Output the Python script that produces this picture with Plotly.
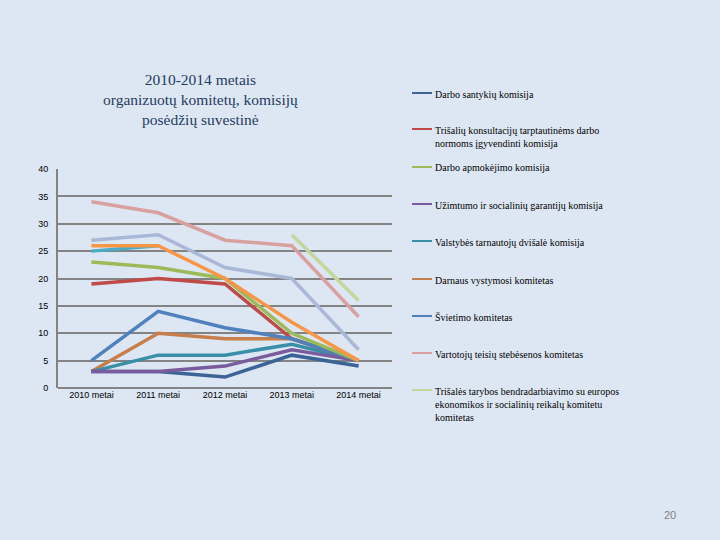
import plotly.graph_objects as go

categories = ["2010 metai", "2011 metai", "2012 metai", "2013 metai", "2014 metai"]

# Series drawn in the chart (legend names for the nine listed ones)
names = [
    "Darbo santykių komisija",
    "Trišalių konsultacijų tarptautinėms darbo<br>normoms įgyvendinti komisija",
    "Darbo apmokėjimo komisija",
    "Užimtumo ir socialinių garantijų komisija",
    "Valstybės tarnautojų dvišalė komisija",
    "Darnaus vystymosi komitetas",
    "Švietimo komitetas",
    "Vartotojų teisių stebėsenos komitetas",
    "Trišalės tarybos bendradarbiavimo su europos<br>ekonomikos ir socialinių reikalų komitetu<br>komitetas",
]
darbo_santykiu = [3, 3, 2, 6, 4]
trisaliu_konsultaciju = [19, 20, 19, 9, 5]
darbo_apmokejimo = [23, 22, 20, 10, 5]
uzimtumo = [3, 3, 4, 7, 5]
valstybes_tarnautoju = [3, 6, 6, 8, 5]
darnaus_vystymosi = [3, 10, 9, 9, 5]
svietimo = [5, 14, 11, 9, 5]
vartotoju = [34, 32, 27, 26, 13]
trisales_tarybos = [None, None, None, 28, 16]
# unlabelled series (legend truncated in the original)
extra_a = [27, 28, 22, 20, 7]
extra_b = [26, 26, 20, 12, 5]
extra_c = [25, 26, None, None, None]

legend_colors = ["#3B6396", "#BE4B48", "#9BBB59", "#7A5C9E", "#3A8FA8",
                 "#C67E4A", "#4F81BD", "#D9A0A0", "#C3D69B"]
extra_colors = ["#4BACC6", "#F79646", "#A9B8D6"]

fig = go.Figure()

# draw order: lower series first
order = [
    (darnaus_vystymosi, legend_colors[5]),
    (valstybes_tarnautoju, legend_colors[4]),
    (darbo_santykiu, legend_colors[0]),
    (uzimtumo, legend_colors[3]),
    (trisaliu_konsultaciju, legend_colors[1]),
    (svietimo, legend_colors[6]),
    (darbo_apmokejimo, legend_colors[2]),
    (extra_c, extra_colors[0]),
    (extra_b, extra_colors[1]),
    (extra_a, extra_colors[2]),
    (vartotoju, legend_colors[7]),
    (trisales_tarybos, legend_colors[8]),
]
for vals, col in order:
    fig.add_trace(go.Scatter(x=categories, y=vals, mode="lines",
                             line=dict(color=col, width=3.5), showlegend=False,
                             connectgaps=False))

W, H = 720, 540
L, R, T, B = 58, 392, 169, 388

def px(x):
    return (x - L) / (R - L)

def py(y):
    return (B - y) / (B - T)

serif = "Liberation Serif, Times New Roman, serif"

# manual legend
leg_y = [93, 129, 167, 204, 241, 279, 316, 353, 390]
for i, (nm, col) in enumerate(zip(names, legend_colors)):
    yy = leg_y[i]
    fig.add_shape(type="line", xref="paper", yref="paper",
                  x0=px(412), x1=px(432), y0=py(yy), y1=py(yy),
                  line=dict(color=col, width=2))
    fig.add_annotation(xref="paper", yref="paper", x=px(433), y=py(yy - 6.5),
                       xanchor="left", yanchor="top", align="left",
                       text=nm, showarrow=False,
                       font=dict(family=serif, size=10, color="#000000"))

fig.add_annotation(xref="paper", yref="paper", x=px(200), y=py(69),
                   xanchor="center", yanchor="top", align="center",
                   text="2010-2014 metais<br>organizuotų komitetų, komisijų<br>posėdžių suvestinė",
                   showarrow=False,
                   font=dict(family=serif, size=15.5, color="#1F3B5F"))

fig.add_annotation(xref="paper", yref="paper", x=px(670), y=py(515),
                   xanchor="center", yanchor="middle", text="20", showarrow=False,
                   font=dict(family="Liberation Sans", size=11, color="#7F7F7F"))

fig.update_layout(
    width=W, height=H,
    margin=dict(l=L, r=W - R, t=T, b=H - B, pad=0),
    paper_bgcolor="#DDE7F3", plot_bgcolor="#DDE7F3",
    showlegend=False,
    xaxis=dict(range=[-0.5, 4.5], showgrid=False, zeroline=False,
               showline=False, ticks="",
               tickfont=dict(family="Liberation Sans", size=9, color="#000000")),
    yaxis=dict(range=[0, 40], tickvals=[0, 5, 10, 15, 20, 25, 30, 35, 40],
               showgrid=True, gridcolor="#838383", gridwidth=2,
               zeroline=True, zerolinecolor="#838383", zerolinewidth=2,
               showline=True, linecolor="#838383", linewidth=2,
               ticks="", ticklabelstandoff=6,
               tickfont=dict(family="Liberation Sans", size=9, color="#000000")),
)

fig.write_html("out.html")
